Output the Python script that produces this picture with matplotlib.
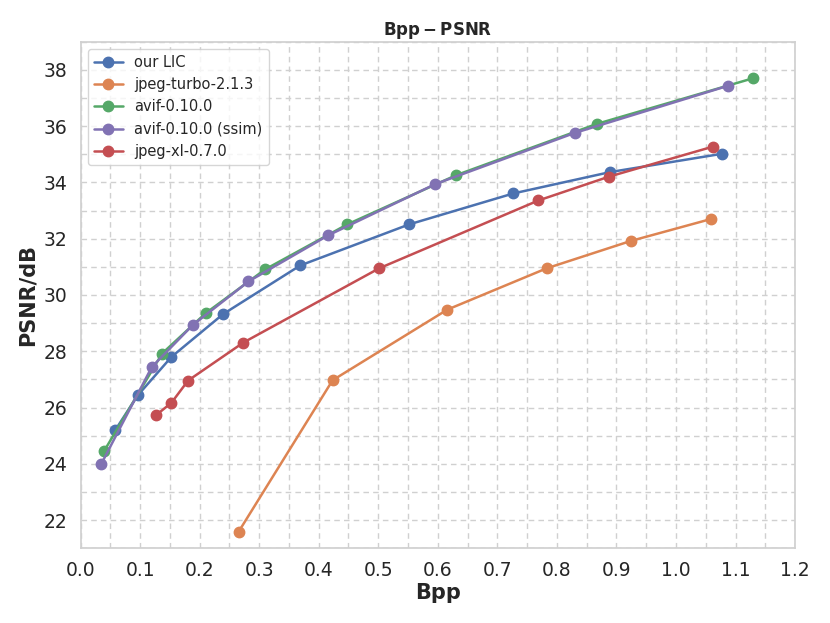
import matplotlib
matplotlib.use("Agg")
import matplotlib.pyplot as plt
import seaborn as sns
from matplotlib.ticker import MultipleLocator

sns.set_theme(style="whitegrid")
plt.rcParams['font.family'] = ['DejaVu Sans']

lic_bpp = [0.0587, 0.096, 0.1527, 0.2394, 0.369, 0.552, 0.727, 0.8898, 1.0777]
lic_psnr = [25.21, 26.43, 27.80, 29.32, 31.05, 32.51, 33.61, 34.37, 35.02]

turbo_bpp = [0.2656, 0.4233, 0.616, 0.783, 0.924, 1.0587]
turbo_psnr = [21.59, 26.97, 29.48, 30.95, 31.92, 32.70]

avif_bpp = [0.0392, 0.137, 0.210, 0.310, 0.448, 0.631, 0.867, 1.129]
avif_psnr = [24.44, 27.92, 29.35, 30.91, 32.51, 34.26, 36.08, 37.70]

avif_ssim_bpp = [0.0347, 0.1197, 0.1884, 0.282, 0.416, 0.5956, 0.830, 1.088]
avif_ssim_psnr = [23.99, 27.44, 28.93, 30.48, 32.12, 33.94, 35.76, 37.44]

jxl_bpp = [0.1275, 0.1527, 0.1807, 0.2735, 0.5017, 0.769, 0.888, 1.0616]
jxl_psnr = [25.74, 26.17, 26.96, 28.31, 30.95, 33.36, 34.21, 35.27]

pal = sns.color_palette("deep")

fig, ax = plt.subplots(figsize=(8.3, 6.23), dpi=100)

style = dict(marker='o', markersize=7.5, linewidth=1.8)
ax.plot(lic_bpp, lic_psnr, color=pal[0], label='our LIC', **style)
ax.plot(turbo_bpp, turbo_psnr, color=pal[1], label='jpeg-turbo-2.1.3', **style)
ax.plot(avif_bpp, avif_psnr, color=pal[2], label='avif-0.10.0', **style)
ax.plot(avif_ssim_bpp, avif_ssim_psnr, color=pal[4], label='avif-0.10.0 (ssim)', **style)
ax.plot(jxl_bpp, jxl_psnr, color=pal[3], label='jpeg-xl-0.7.0', **style)

ax.set_xlim(0, 1.2)
ax.set_ylim(21, 39)
ax.xaxis.set_major_locator(MultipleLocator(0.1))
ax.xaxis.set_minor_locator(MultipleLocator(0.05))
ax.yaxis.set_major_locator(MultipleLocator(2))
ax.yaxis.set_minor_locator(MultipleLocator(1))
ax.grid(which='both', linestyle=(0, (4, 3)), color='#d0d0d0', linewidth=1)
for s in ax.spines.values():
    s.set_color('#d0d0d0')
ax.tick_params(labelsize=13.5)

ax.set_xlabel('Bpp', fontsize=15, fontweight='bold', labelpad=2)
ax.set_ylabel('PSNR/dB', fontsize=15, fontweight='bold')
ax.set_title(r'$\mathbf{Bpp-PSNR}$', fontsize=12, pad=5)
ax.legend(loc='upper left', fontsize=10.5)

plt.subplots_adjust(left=0.097, right=0.958, top=0.933, bottom=0.12)
plt.savefig('out.png')
